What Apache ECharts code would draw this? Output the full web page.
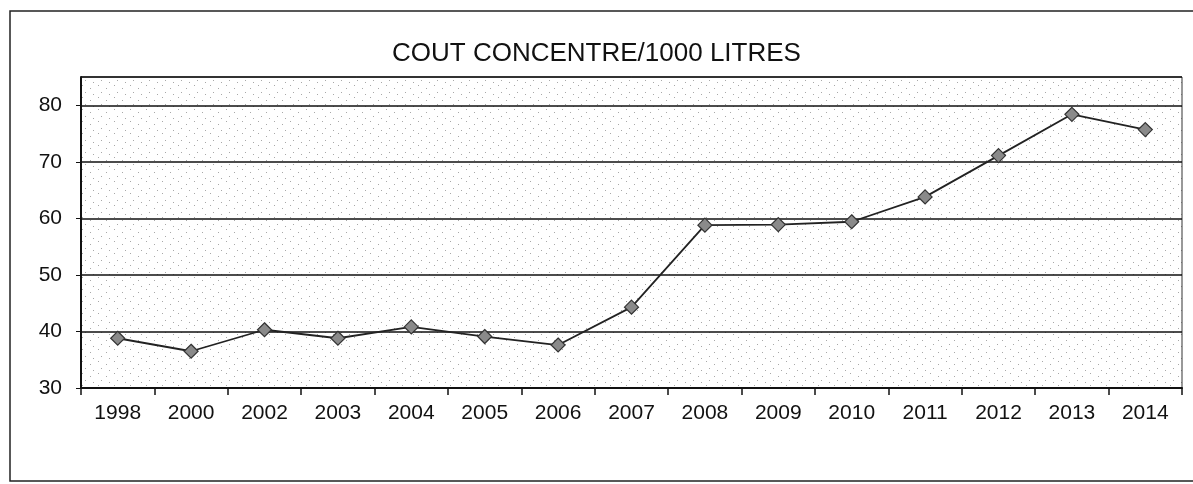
<!DOCTYPE html>
<html>
<head>
<meta charset="utf-8">
<script src="https://cdn.jsdelivr.net/npm/echarts@6/dist/echarts.min.js"></script>
<style>
  html, body { margin: 0; padding: 0; background: #fff; }
  #main { width: 1193px; height: 484px; }
</style>
</head>
<body>
<div id="main"></div>
<script>
// années et coût du concentré pour 1000 litres
var years = ['1998', '2000', '2002', '2003', '2004', '2005', '2006', '2007',
  '2008', '2009', '2010', '2011', '2012', '2013', '2014'];
var cout = [38.8, 36.5, 40.3, 38.8, 40.8, 39.1, 37.6, 44.3,
  58.8, 58.9, 59.4, 63.8, 71.1, 78.4, 75.7];

// petit motif pointillé pour le fond de la zone de tracé
function makeDots() {
  var c = document.createElement('canvas');
  c.width = 16;
  c.height = 12;
  var ctx = c.getContext('2d');
  ctx.fillStyle = '#fff';
  ctx.fillRect(0, 0, 16, 12);
  ctx.fillStyle = '#a8a8a8';
  ctx.fillRect(2, 1, 1, 1);
  ctx.fillRect(10, 4, 1, 1);
  ctx.fillRect(5, 8, 1, 1);
  ctx.fillRect(13, 10, 1, 1);
  return c;
}

var myChart = echarts.init(document.getElementById('main'));

var option = {
  backgroundColor: '#fff',
  animation: false,
  title: {
    text: 'COUT CONCENTRE/1000 LITRES',
    left: 'center',
    top: 36,
    textStyle: {
      fontFamily: 'Liberation Sans',
      fontSize: 26,
      fontWeight: 'normal',
      color: '#111'
    }
  },
  graphic: [{
    type: 'rect',
    shape: { x: 10, y: 11, width: 1200, height: 470 },
    style: { fill: null, stroke: '#222', lineWidth: 1.5 },
    silent: true
  }],
  grid: {
    left: 81,
    right: 11,
    top: 77,
    bottom: 96,
    show: true,
    borderColor: '#333',
    borderWidth: 1,
    backgroundColor: { image: makeDots(), repeat: 'repeat' }
  },
  xAxis: {
    type: 'category',
    data: years,
    boundaryGap: true,
    axisLine: { lineStyle: { color: '#111', width: 2 } },
    axisTick: { show: true, length: 7, lineStyle: { color: '#111', width: 1.5 } },
    axisLabel: {
      fontFamily: 'Liberation Sans',
      fontSize: 21,
      color: '#111',
      margin: 15
    }
  },
  yAxis: {
    type: 'value',
    min: 30,
    max: 85,
    interval: 10,
    axisLine: { show: true, lineStyle: { color: '#111', width: 2 } },
    axisTick: { show: true, length: 5, lineStyle: { color: '#111' } },
    axisLabel: {
      fontFamily: 'Liberation Sans',
      fontSize: 21,
      color: '#111',
      margin: 19,
      showMaxLabel: false
    },
    splitLine: { show: true, lineStyle: { color: '#111', width: 1.5 } }
  },
  series: [{
    name: 'cout',
    type: 'line',
    data: cout,
    symbol: 'diamond',
    symbolSize: 14,
    lineStyle: { color: '#222', width: 1.8 },
    itemStyle: { color: '#8a8a8a', borderColor: '#333', borderWidth: 1.2 }
  }]
};

myChart.setOption(option);
</script>
</body>
</html>
